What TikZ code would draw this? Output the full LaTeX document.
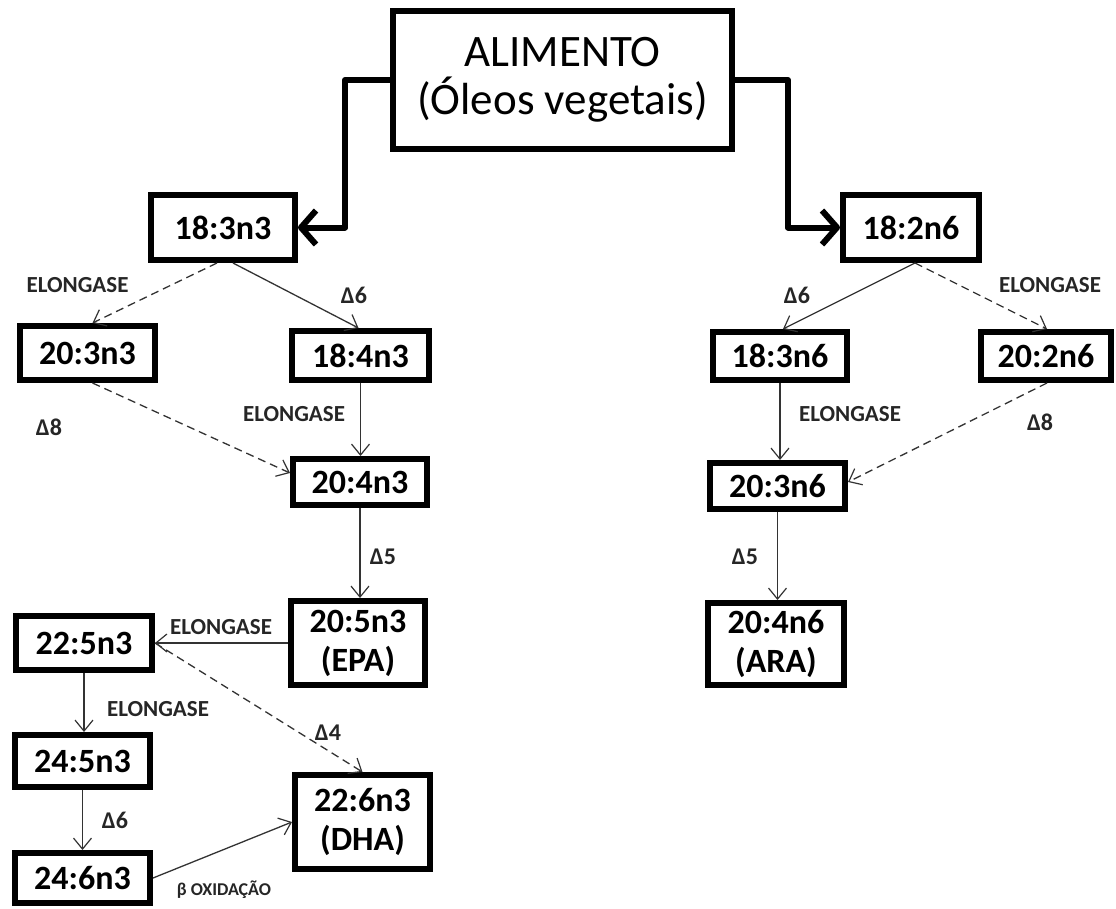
\documentclass[tikz,border=0pt]{standalone}
\usepackage{fontspec}
\setmainfont{Carlito}
\usetikzlibrary{arrows.meta,calc}
\begin{document}
\begin{tikzpicture}[x=1pt,y=-1pt,
  box/.style={draw, line width=6pt, inner sep=0pt, align=center, fill=white,
    font=\bfseries\fontsize{34}{39}\selectfont},
  topbox/.style={draw, line width=6pt, inner sep=0pt, align=center, fill=white,
    font=\fontsize{45}{48}\selectfont},
  lbl/.style={inner sep=0pt, font=\bfseries\fontsize{23}{26}\selectfont, text=black!85},
  dlt/.style={inner sep=0pt, font=\bfseries\fontsize{24}{26}\selectfont, text=black!85},
  thinarr/.style={line width=1.3pt, draw=black!80,
    -{Straight Barb[length=11pt,width=18pt,line width=1.2pt]}},
  dasharr/.style={thinarr, dash pattern=on 8pt off 5pt},
  thickarr/.style={line width=6pt, line join=round,
    -{Straight Barb[length=15pt,width=34pt,line join=round]}}
]
\useasboundingbox (0,0) rectangle (1116,908);
\fill[white] (0,0) rectangle (1116,908);

% nodes
\node[topbox, minimum width=339pt, minimum height=138pt] (top) at (562.5,80) {ALIMENTO\\(Óleos vegetais)};
\node[box, minimum width=144pt, minimum height=65pt] (a1) at (223,227.5) {18:3n3};
\node[box, minimum width=136pt, minimum height=65pt] (b1) at (911,227.5) {18:2n6};
\node[box, minimum width=135pt, minimum height=54pt] (a2) at (87.5,353) {20:3n3};
\node[box, minimum width=137pt, minimum height=49pt] (a3) at (360.5,355.5) {18:4n3};
\node[box, minimum width=134pt, minimum height=46pt] (a4) at (360,482) {20:4n3};
\node[box, minimum width=134pt, minimum height=84pt] (a5) at (358,643) {20:5n3\\(EPA)};
\node[box, minimum width=136pt, minimum height=54pt] (a6) at (84,643) {22:5n3};
\node[box, minimum width=135pt, minimum height=52pt] (a7) at (82.5,761) {24:5n3};
\node[box, minimum width=135pt, minimum height=50pt] (a8) at (82.5,878) {24:6n3};
\node[box, minimum width=135pt, minimum height=94pt] (a9) at (362.5,822) {22:6n3\\(DHA)};
\node[box, minimum width=134pt, minimum height=48pt] (b2) at (780,356) {18:3n6};
\node[box, minimum width=130pt, minimum height=48pt] (b3) at (1046,356) {20:2n6};
\node[box, minimum width=135pt, minimum height=46pt] (b4) at (777.5,486) {20:3n6};
\node[box, minimum width=136pt, minimum height=82pt] (b5) at (776,644) {20:4n6\\(ARA)};

% thick connectors
\coordinate (tl1) at (345,80);
\coordinate (tl2) at (345,227.5);
\coordinate (tr1) at (788,80);
\coordinate (tr2) at (788,227.5);
\draw[thickarr] (top.west |- tl1) -- (tl1) -- (tl2) -- (a1.east);
\draw[thickarr] (top.east |- tr1) -- (tr1) -- (tr2) -- (b1.west);

% omega-3 branch
\draw[dasharr] ([xshift=-6pt]a1.south) -- ([xshift=5pt]a2.north);
\draw[thinarr] ([xshift=10pt]a1.south) -- ([xshift=-2pt]a3.north);
\draw[dasharr] ([xshift=5pt]a2.south) -- ([yshift=9pt]a4.west);
\draw[thinarr] (a3.south) -- (a3.south |- a4.north);
\draw[thinarr] (a4.south) -- (a4.south |- a5.north);
\draw[thinarr] (a5.west) -- (a5.west -| a6.east);
\draw[thinarr] (a6.south) -- (a6.south |- a7.north);
\draw[thinarr] (a7.south) -- (a7.south |- a8.north);
\draw[dasharr] (a6.east) -- (a9.north);
\draw[thinarr] (a8.east) -- (a9.west);

% omega-6 branch
\draw[thinarr] ([xshift=4pt]b1.south) -- ([xshift=3pt]b2.north);
\draw[dasharr] ([xshift=4pt]b1.south) -- ([xshift=1pt]b3.north);
\draw[thinarr] (b2.south) -- (b2.south |- b4.north);
\draw[dasharr] ([xshift=1pt]b3.south) -- ([yshift=4pt]b4.east);
\draw[thinarr] (b4.south) -- (b4.south |- b5.north);

% labels
\node[lbl] (l1) at (77.5,285) {ELONGASE};
\node[dlt] (l2) at (354,295) {Δ6};
\node[dlt] (l3) at (49,427) {Δ8};
\node[lbl] (l4) at (294,414) {ELONGASE};
\node[dlt] (l5) at (383,557) {Δ5};
\node[lbl] (l6) at (221,627) {ELONGASE};
\node[lbl] (l7) at (158,709) {ELONGASE};
\node[dlt] (l8) at (328,733) {Δ4};
\node[dlt] (l9) at (115,820) {Δ6};
\node[inner sep=0pt, font=\bfseries\fontsize{18}{20}\selectfont, text=black!85] (l10) at (224,890) {β OXIDAÇÃO};
\node[dlt] (r1) at (797,295) {Δ6};
\node[lbl] (r2) at (1050,285) {ELONGASE};
\node[lbl] (r3) at (850,414) {ELONGASE};
\node[dlt] (r4) at (1040,422) {Δ8};
\node[dlt] (r5) at (745,557) {Δ5};
\end{tikzpicture}
\end{document}
